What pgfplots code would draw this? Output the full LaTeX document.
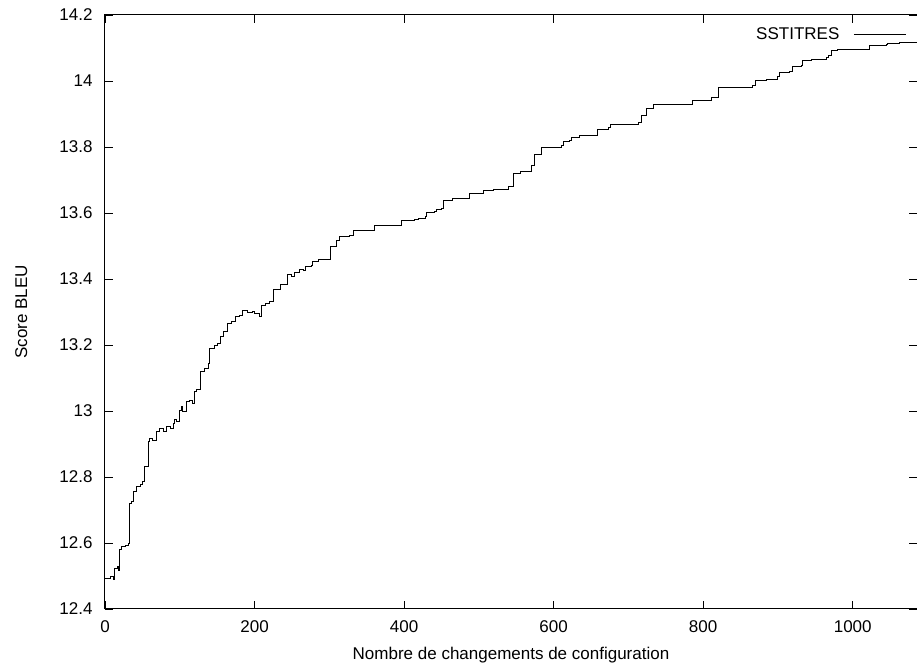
\documentclass[border=0pt]{standalone}
\usepackage{fontspec}
\setmainfont{Liberation Sans}
\usepackage{pgfplots}
\pgfplotsset{compat=1.18}
\usetikzlibrary{calc}

\pgfplotstableread{
x y
0 12.493
7 12.498
11 12.490
13 12.523
16 12.528
18 12.518
19 12.579
22 12.589
27 12.594
31 12.599
33 12.720
36 12.725
38 12.756
42 12.771
47 12.776
50 12.786
53 12.831
58 12.907
60 12.917
64 12.912
69 12.937
73 12.948
78 12.937
82 12.953
87 12.948
91 12.963
93 12.973
96 12.968
100 13.003
102 13.013
104 12.998
109 13.028
113 13.033
117 13.023
120 13.059
122 13.064
127 13.119
133 13.129
138 13.145
140 13.190
147 13.200
151 13.205
155 13.225
158 13.240
164 13.266
169 13.271
174 13.288
180 13.291
184 13.304
190 13.298
194 13.298
197 13.303
200 13.296
206 13.288
209 13.321
214 13.326
220 13.331
225 13.367
234 13.382
242 13.382
244 13.415
249 13.409
253 13.419
258 13.420
260 13.429
266 13.426
268 13.439
276 13.442
278 13.452
285 13.460
299 13.458
301 13.498
305 13.500
309 13.516
314 13.528
327 13.533
332 13.546
356 13.546
361 13.561
390 13.561
396 13.576
414 13.579
419 13.584
428 13.589
430 13.601
441 13.604
443 13.611
450 13.614
453 13.639
465 13.644
488 13.659
506 13.667
519 13.670
539 13.680
546 13.720
555 13.727
570 13.745
575 13.776
584 13.798
610 13.806
613 13.816
621 13.821
624 13.829
635 13.835
655 13.835
658 13.853
673 13.859
676 13.868
713 13.874
717 13.897
724 13.917
733 13.930
786 13.940
797 13.942
811 13.950
821 13.981
866 13.988
870 14.001
884 14.005
900 14.013
902 14.025
915 14.028
919 14.043
931 14.048
933 14.061
945 14.066
965 14.071
967 14.077
971 14.094
980 14.096
1023 14.109
1045 14.110
1047 14.113
1062 14.117
1086 14.132
}\sstitres

\begin{document}
\begin{tikzpicture}
\begin{axis}[
  scale only axis,
  width=812pt,height=594pt,
  xmin=0,xmax=1086,
  ymin=12.4,ymax=14.2,
  xtick={0,200,...,1000},
  ytick={12.4,12.6,...,14.2},
  yticklabels={12.4,12.6,12.8,13,13.2,13.4,13.6,13.8,14,14.2},
  tick align=inside,
  major tick length=8pt,
  minor tick num=0,
  axis line style={line width=1pt},
  tick style={line width=0.8pt,black},
  font=\fontsize{17}{20}\selectfont,
  /pgf/number format/assume math mode=true,
  /pgf/number format/1000 sep={},
  xticklabel style={yshift=-8pt},
  yticklabel style={xshift=-9pt},
  xlabel={Nombre de changements de configuration},
  ylabel={Score BLEU},
  xlabel style={at={(axis description cs:0.5,-0.0774)},anchor=center},
  ylabel style={at={(axis description cs:-0.103,0.5)},anchor=center},
  legend plot pos=right,
  legend cell align=right,
  legend style={draw=none,fill=none,at={(axis description cs:0.987,0.968)},
    anchor=east,inner sep=0pt,font=\fontsize{17}{20}\selectfont},
  legend image code/.code={\path (0pt,0pt); \draw[#1] (12pt,0pt) -- (64pt,0pt);},
]
\addplot[black,line width=0.9pt,const plot] table[x=x,y=y] {\sstitres};
\addlegendentry{SSTITRES}
\end{axis}
\pgfresetboundingbox
\useasboundingbox ($(current axis.south west)+(-105pt,-59pt)$) rectangle ($(current axis.north east)+(0pt,15pt)$);
\end{tikzpicture}
\end{document}
